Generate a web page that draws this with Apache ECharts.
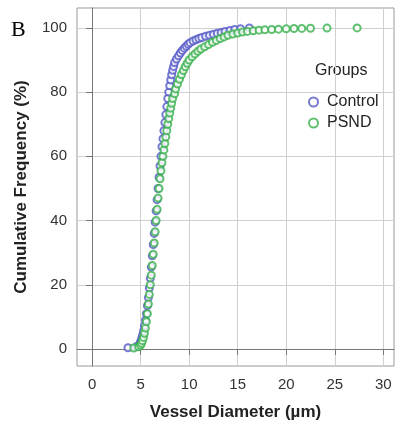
<!DOCTYPE html>
<html><head><meta charset="utf-8">
<script src="https://cdn.jsdelivr.net/npm/echarts@6/dist/echarts.min.js"></script>
<style>html,body{margin:0;padding:0;background:#fff}#c{width:398px;height:426px}</style>
</head><body><div id="c"></div>
<script>
const xTicks = [0, 5, 10, 15, 20, 25, 30];
const yTicks = [0, 20, 40, 60, 80, 100];
const controlX = [3.7,4.6,4.9,5.0,5.1,5.2,5.3,5.4,5.5,5.6,5.7,5.8,5.9,6.0,6.1,6.2,6.3,6.4,6.5,6.6,6.7,6.8,6.9,7.0,7.1,7.2,7.3,7.4,7.5,7.6,7.7,7.8,7.9,8.0,8.1,8.2,8.3,8.4,8.5,8.7,8.9,9.1,9.3,9.5,9.7,9.9,10.1,10.4,10.7,11.0,11.3,11.7,12.1,12.5,12.9,13.3,13.7,14.2,14.7,15.3,16.2];
const controlY = [0.4,0.8,1.5,2.3,3.2,4.3,5.6,7.2,9,11,13.5,16,19,22,25.5,29,32.5,36,39.5,43,46.5,50,53.5,57,60,63,65.5,68,70.5,73,75.5,78,80,82,83.8,85.4,86.8,88,89.2,90.3,91.3,92.2,93,93.7,94.3,94.9,95.4,95.9,96.3,96.7,97,97.4,97.7,98,98.3,98.6,98.9,99.2,99.5,99.7,100];
const psndX = [4.3,4.8,5.0,5.1,5.2,5.3,5.4,5.5,5.6,5.7,5.8,5.9,6.0,6.1,6.2,6.3,6.4,6.5,6.6,6.7,6.8,6.9,7.0,7.1,7.2,7.3,7.4,7.5,7.6,7.7,7.8,7.9,8.0,8.1,8.2,8.3,8.5,8.6,8.8,9.0,9.2,9.4,9.6,9.8,10.0,10.3,10.6,10.9,11.2,11.6,12.0,12.4,12.8,13.2,13.6,14.0,14.5,15.0,15.5,16.0,16.6,17.2,17.8,18.5,19.2,20.0,20.8,21.6,22.5,24.2,27.3];
const psndY = [0.3,0.7,1.2,1.8,2.6,3.6,4.9,6.5,8.5,11,14,17,20,23,26,29.5,33,36.5,40,43.5,47,50,53,55.5,58,60,62,64,66,68,70,71.8,73.5,75,76.5,78,79.5,81,82.5,84,85.4,86.7,87.9,89,90,91,91.9,92.7,93.4,94.1,94.8,95.5,96.1,96.7,97.2,97.7,98.1,98.4,98.7,98.9,99.1,99.3,99.4,99.5,99.6,99.7,99.8,99.85,99.9,99.95,100];

const zip = (a, b) => a.map((v, i) => [v, b[i]]);
const CBLUE = '#5257c6', CGREEN = '#38b04c';
const chart = echarts.init(document.getElementById('c'), null, {renderer: 'canvas'});
const axisCommon = {
  axisLine: {show: true, lineStyle: {color: '#777', width: 1}},
  axisTick: {show: true, length: 6, lineStyle: {color: '#777'}},
  splitLine: {show: true, lineStyle: {color: '#cfcfcf', width: 1}},
  nameTextStyle: {fontFamily: 'Liberation Sans', fontWeight: 'bold', fontSize: 17, color: '#222'}
};
chart.setOption({
  animation: false,
  grid: {left: 77, top: 8, right: 4, bottom: 60, show: true, borderColor: '#999', borderWidth: 1, containLabel: false},
  xAxis: Object.assign({}, axisCommon, {
    type: 'value', min: -1.55, max: 31.1,
    axisTick: Object.assign({}, axisCommon.axisTick, {customValues: xTicks}),
    axisLabel: {customValues: xTicks, fontFamily: 'Liberation Sans', fontSize: 15, color: '#333', margin: 11},
    name: 'Vessel Diameter (µm)', nameLocation: 'middle', nameGap: 38
  }),
  yAxis: Object.assign({}, axisCommon, {
    type: 'value', min: -5.3, max: 106.2,
    axisTick: Object.assign({}, axisCommon.axisTick, {customValues: yTicks}),
    axisLabel: {customValues: yTicks, fontFamily: 'Liberation Sans', fontSize: 15, color: '#333', margin: 10},
    name: 'Cumulative Frequency (%)', nameLocation: 'middle', nameGap: 47
  }),
  legend: {
    orient: 'vertical', left: 303, top: 89, itemGap: 5, itemWidth: 9, itemHeight: 9,
    textStyle: {fontFamily: 'Liberation Sans', fontSize: 16, color: '#222', padding: [0, 0, 0, 4]},
    data: [{name: 'Control', icon: 'emptyCircle'}, {name: 'PSND', icon: 'emptyCircle'}]
  },
  graphic: [
    {type: 'text', left: 11, top: 19, style: {text: 'B', fontFamily: 'Liberation Serif', fontSize: 22, fill: '#000'}},
    {type: 'text', left: 315, top: 63, style: {text: 'Groups', fontFamily: 'Liberation Sans', fontSize: 16, fill: '#222'}}
  ],
  series: [
    {name: 'Control', type: 'scatter', data: zip(controlX, controlY), symbol: 'emptyCircle', symbolSize: 7,
     itemStyle: {color: CBLUE, borderWidth: 1}},
    {name: 'PSND', type: 'scatter', data: zip(psndX, psndY), symbol: 'emptyCircle', symbolSize: 7,
     itemStyle: {color: CGREEN, borderWidth: 1}}
  ]
});
</script></body></html>
